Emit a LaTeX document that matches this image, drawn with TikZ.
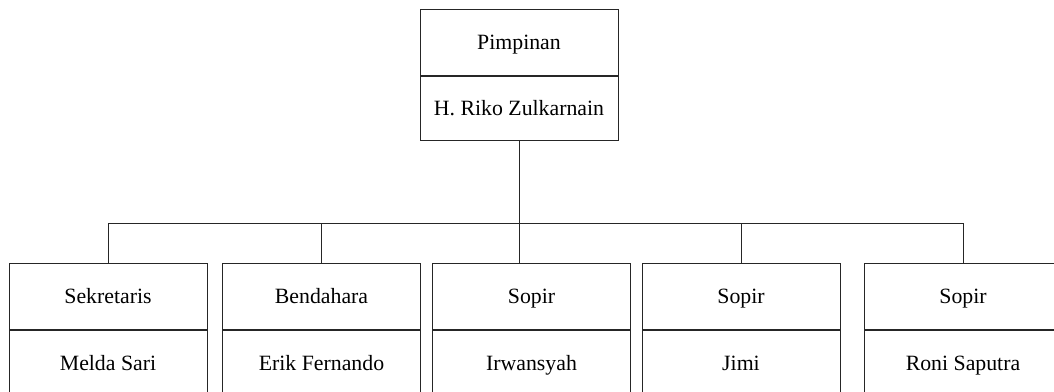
\documentclass[tikz,border=0pt]{standalone}
\usepackage{fontspec}
\setmainfont{Liberation Serif}
\usetikzlibrary{positioning}

\begin{document}
\begin{tikzpicture}[x=1pt, y=-1pt]
  \tikzstyle{kotak}=[rectangle, draw=black!85, line width=1pt, minimum width=198pt, inner sep=0pt, text height=14.4pt, text depth=0pt, font=\fontsize{21.8}{26}\selectfont]
  \tikzstyle{garis}=[-, line width=1pt, black!85]

  \useasboundingbox (0,0) rectangle (1054,391);
  \clip (0,0) rectangle (1054,391);

  % Pimpinan
  \node[kotak, minimum height=66pt, anchor=north] (jab0) at (519,9) {Pimpinan};
  \node[kotak, minimum height=64pt, below=0pt of jab0] (nama0) {H. Riko Zulkarnain};

  % Staf
  \node[kotak, minimum height=66pt, anchor=north] (jab1) at (108,263) {Sekretaris};
  \node[kotak, minimum height=66pt, below=0pt of jab1] (nama1) {Melda Sari};
  \node[kotak, minimum height=66pt, anchor=north] (jab2) at (321.5,263) {Bendahara};
  \node[kotak, minimum height=66pt, below=0pt of jab2] (nama2) {Erik Fernando};
  \node[kotak, minimum height=66pt, anchor=north] (jab3) at (531.5,263) {Sopir};
  \node[kotak, minimum height=66pt, below=0pt of jab3] (nama3) {Irwansyah};
  \node[kotak, minimum height=66pt, anchor=north] (jab4) at (741,263) {Sopir};
  \node[kotak, minimum height=66pt, below=0pt of jab4] (nama4) {Jimi};
  \node[kotak, minimum height=66pt, anchor=north] (jab5) at (963,263) {Sopir};
  \node[kotak, minimum height=66pt, below=0pt of jab5] (nama5) {Roni Saputra};

  % Garis hubung
  \coordinate (bar) at (0,223);
  \draw[garis] (nama0.south) -- (nama0.south |- jab3.north);
  \draw[garis] (jab1.north) -- (jab1.north |- bar) -- (jab5.north |- bar) -- (jab5.north);
  \draw[garis] (jab2.north) -- (jab2.north |- bar);
  \draw[garis] (jab4.north) -- (jab4.north |- bar);
\end{tikzpicture}
\end{document}
